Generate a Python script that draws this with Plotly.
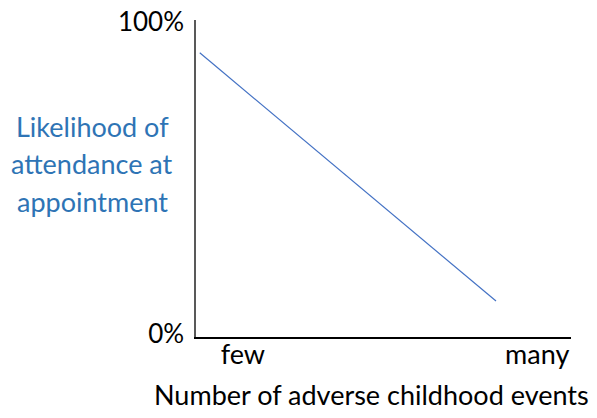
import plotly.graph_objects as go

# Data
x_vals = [0.01, 0.80]          # relative number of adverse childhood events
y_vals = [90, 10.5]            # likelihood of attendance (%)
x_tick_vals = [0.125, 0.91]
x_tick_text = ["few", "many"]
y_tick_vals = [0, 100]
y_tick_text = ["0%", "100%"]
y_title_lines = ["Likelihood of", "attendance at", "appointment"]
x_title = "Number of adverse childhood events"

FONT = "Lato, Calibri, Carlito, sans-serif"
FS = 27

fig = go.Figure()
fig.add_trace(go.Scatter(x=x_vals, y=y_vals, mode="lines",
                         line=dict(color="#4472C4", width=1.2),
                         hoverinfo="skip", showlegend=False))

# page body has an 8px margin, so the figure is 8px smaller than the window
fig.update_layout(
    width=589, height=410,
    margin=dict(l=188, r=26, t=12, b=81, autoexpand=False),
    paper_bgcolor="white", plot_bgcolor="white",
    font=dict(family=FONT, size=FS, color="black"),
    xaxis=dict(range=[0, 1], showgrid=False, zeroline=False, automargin=False,
               showline=True, linecolor="black", linewidth=1.5,
               tickvals=x_tick_vals, ticktext=x_tick_text, ticks="",
               ticklabelstandoff=-7, ticklabeloverflow="allow",
               tickfont=dict(size=FS, color="black")),
    yaxis=dict(range=[-1, 100.5], showgrid=False, zeroline=False, automargin=False,
               showline=True, linecolor="#595959", linewidth=1.5,
               tickvals=y_tick_vals, ticktext=y_tick_text, ticks="",
               ticklabelstandoff=5, ticklabeloverflow="allow",
               tickfont=dict(size=26, color="black")),
)

# x-axis title (placed like the reference, slightly left of the plot centre)
fig.add_annotation(text=x_title, xref="paper", yref="paper",
                   x=(371.5 - 196) / 375, y=(337 - 394) / 317,
                   xanchor="center", yanchor="middle", showarrow=False,
                   font=dict(family=FONT, size=FS, color="black"))

line_y_px = [126, 164, 201]
for txt, py in zip(y_title_lines, line_y_px):
    fig.add_annotation(text=txt, xref="paper", yref="paper",
                       x=(92 - 196) / 375, y=(337 - py) / 317,
                       xanchor="center", yanchor="middle", showarrow=False,
                       font=dict(family=FONT, size=FS, color="#2E74B5"))

fig.write_html("out.html")
